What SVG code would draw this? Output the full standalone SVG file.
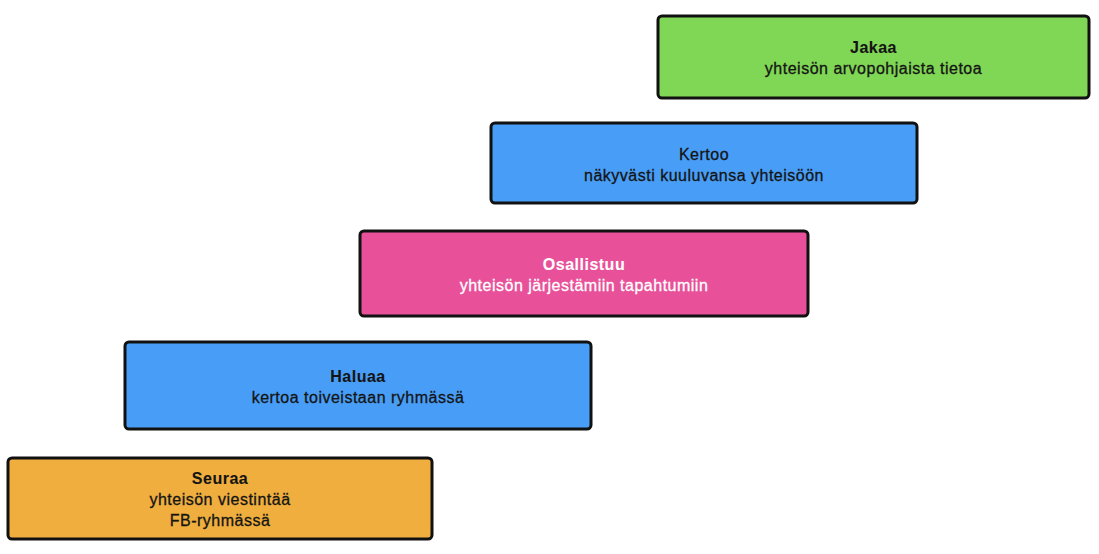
<svg xmlns="http://www.w3.org/2000/svg" width="1099" height="554" viewBox="0 0 1099 554">
<style>
.box{stroke:#111;stroke-width:3;}
.t{font-family:"Liberation Sans",Arial,sans-serif;font-size:16px;text-anchor:middle;fill:#141414;stroke:#141414;stroke-width:0.3px;letter-spacing:0.5px;}
.b{font-weight:bold;stroke-width:0.1px;}
.w{fill:#ffffff;stroke:#ffffff;}
</style>
<rect x="0" y="0" width="1099" height="554" fill="#ffffff"/>
<g id="connectors"></g>
<g id="jakaa">
<rect class="box" x="658" y="16" width="431" height="82" rx="4" fill="#80D655"/>
<text class="t b" x="873.5" y="53">Jakaa</text>
<text class="t" x="873.5" y="74">yhteisön arvopohjaista tietoa</text>
</g>
<g id="kertoo">
<rect class="box" x="491" y="123" width="426" height="80" rx="4" fill="#489EF7"/>
<text class="t" x="704" y="160">Kertoo</text>
<text class="t" x="704" y="181">näkyvästi kuuluvansa yhteisöön</text>
</g>
<g id="osallistuu">
<rect class="box" x="360" y="231" width="448" height="85" rx="4" fill="#E8519A"/>
<text class="t b w" x="584" y="270">Osallistuu</text>
<text class="t w" x="584" y="291">yhteisön järjestämiin tapahtumiin</text>
</g>
<g id="haluaa">
<rect class="box" x="125" y="342" width="466" height="87" rx="4" fill="#489EF7"/>
<text class="t b" x="358" y="382">Haluaa</text>
<text class="t" x="358" y="403">kertoa toiveistaan ryhmässä</text>
</g>
<g id="seuraa">
<rect class="box" x="8" y="458" width="424" height="81" rx="4" fill="#EFAE3E"/>
<text class="t b" x="220" y="484">Seuraa</text>
<text class="t" x="220" y="505">yhteisön viestintää</text>
<text class="t" x="220" y="526">FB-ryhmässä</text>
</g>
</svg>
